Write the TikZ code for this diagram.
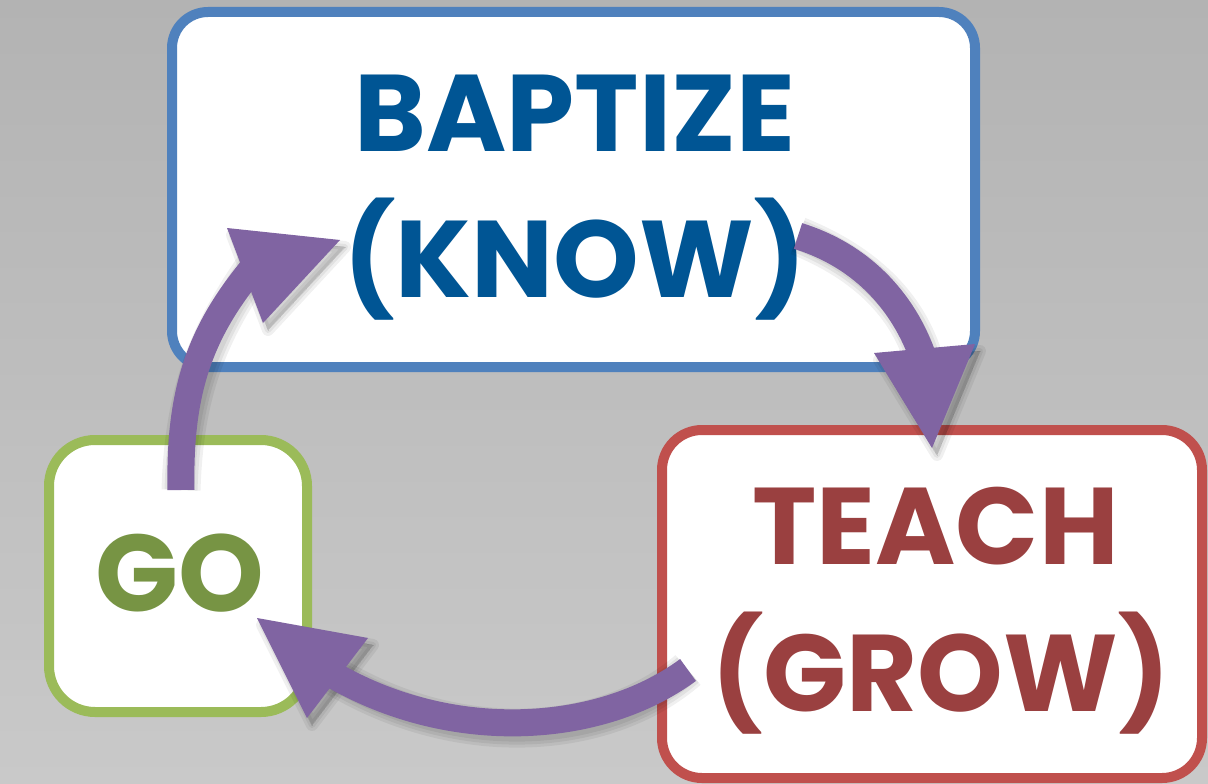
\documentclass[tikz,border=0pt]{standalone}
\usepackage{fontspec}
\setmainfont{Poppins}
\usetikzlibrary{shadows}
\definecolor{bgtop}{HTML}{B3B3B3}
\definecolor{bgbot}{HTML}{C9C9C9}
\definecolor{bline}{HTML}{4F81BD}
\definecolor{btext}{HTML}{005594}
\definecolor{gline}{HTML}{9BBB59}
\definecolor{gtext}{HTML}{779444}
\definecolor{rline}{HTML}{C0504D}
\definecolor{rtext}{HTML}{9A4040}
\definecolor{purp}{HTML}{8064A2}
\tikzset{
  box/.style={draw, fill=white, rounded corners=#1, line width=10pt, inner sep=0pt,
    drop shadow={shadow xshift=3pt, shadow yshift=-3pt, opacity=0.18}},
  big/.style={inner sep=0pt, anchor=base, font=\bfseries\fontsize{109}{109}\selectfont},
  shaft/.style={draw=purp, line width=27pt, line cap=butt},
  head/.style={fill=purp},
  shshaft/.style={draw=black, opacity=0.06, line width=#1, line cap=butt},
  shhead/.style={fill=black, draw=black, opacity=0.06, line width=#1, line join=round},
}
\begin{document}
\begin{tikzpicture}[x=1pt,y=-1pt]
\useasboundingbox (0,0) rectangle (1208,784);
\fill[top color=bgtop, bottom color=bgbot] (0,0) rectangle (1208,784);

% boxes
\node[box=36pt, draw=bline, minimum width=803pt, minimum height=355pt] (baptize) at (573.5,189.5) {};
\node[box=46pt, draw=gline, minimum width=258pt, minimum height=272pt] (go) at (178,576) {};
\node[box=40pt, draw=rline, minimum width=540pt, minimum height=348pt] (teach) at (932,604) {};

% texts
\node[big, text=btext] (t1) at (575,151) {BAPTIZE};
\node[big, text=btext] (t2) at (575,297) {(KNOW)};
\node[big, text=rtext] (t3) at (935.5,564) {TEACH};
\node[big, text=rtext] (t4) at (941,711) {(GROW)};
\node[big, text=gtext] (t5) at (179.5,611) {GO};

% arrow end coordinates
\coordinate (a1s) at (181,490);
\coordinate (a1e) at (258,262);
\coordinate (a2s) at (798,236);
\coordinate (a2e) at (924,360);
\coordinate (a3s) at (688,670);
\coordinate (a3e) at (328,672);

% shadows of arrows
\foreach \w in {27,33,39}{
  \begin{scope}[shift={(5,7)}]
    \draw[shshaft=\w pt] (a1s) .. controls (179,390) and (200,330) .. (a1e);
    \filldraw[shhead=\w pt-27pt] (227,228) -- (340,240) -- (263,323) -- cycle;
    \draw[shshaft=\w pt] (a2s) .. controls (850,252) and (900,290) .. (a2e);
    \filldraw[shhead=\w pt-27pt] (874,353) -- (975,344) -- (932,448) -- cycle;
    \draw[shshaft=\w pt] (a3s) .. controls (600,735) and (450,745) .. (a3e);
    \filldraw[shhead=\w pt-27pt] (257,618) -- (368,638) -- (307,718) -- cycle;
  \end{scope}
}

% arrows
\draw[shaft] (a1s) .. controls (179,390) and (200,330) .. (a1e);
\fill[head] (227,228) -- (340,240) -- (263,323) -- cycle;
\draw[shaft] (a2s) .. controls (850,252) and (900,290) .. (a2e);
\fill[head] (874,353) -- (975,344) -- (932,448) -- cycle;
\draw[shaft] (a3s) .. controls (600,735) and (450,745) .. (a3e);
\fill[head] (257,618) -- (368,638) -- (307,718) -- cycle;
\end{tikzpicture}
\end{document}
